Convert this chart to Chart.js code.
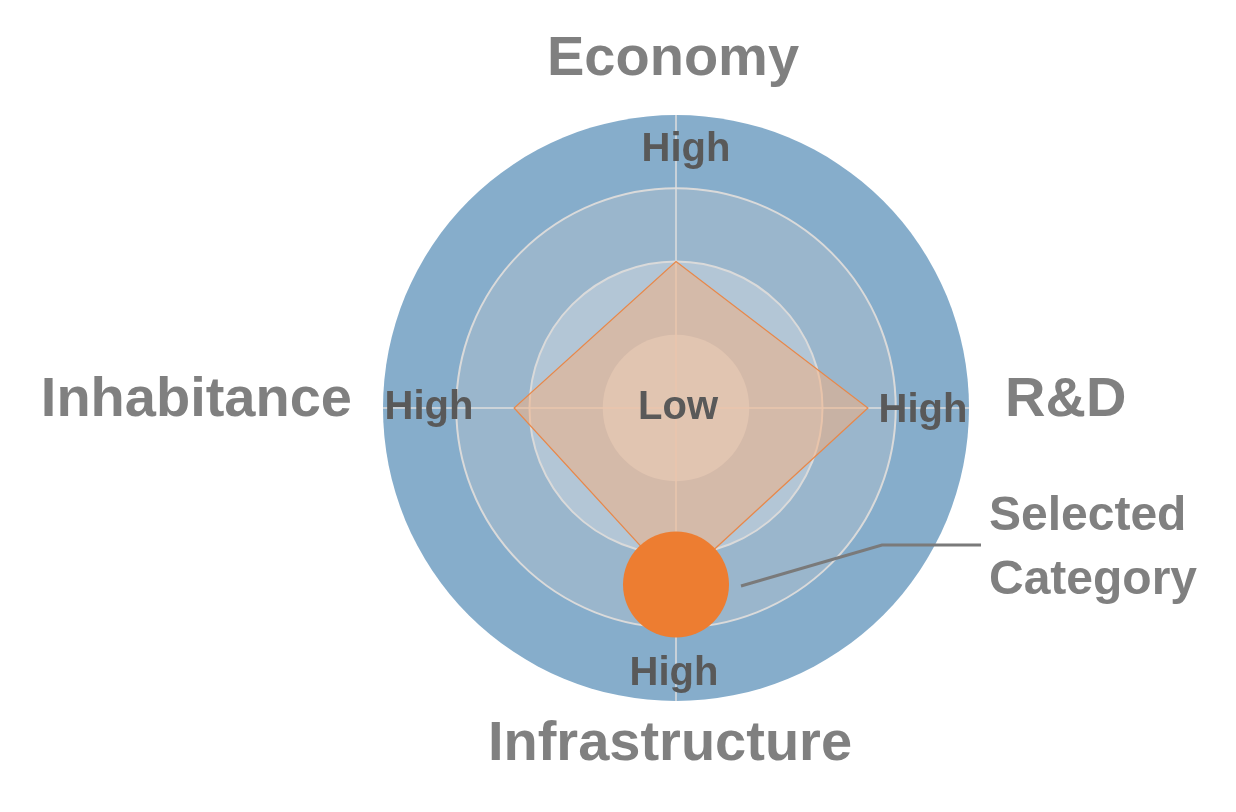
<!DOCTYPE html>
<html>
<head>
<meta charset="utf-8">
<script src="https://cdn.jsdelivr.net/npm/chart.js@4/dist/chart.umd.min.js"></script>
<style>
  html, body { margin: 0; padding: 0; background: #ffffff; }
  #wrap { width: 1236px; height: 812px; position: relative; }
</style>
</head>
<body>
<div id="wrap"><canvas id="c"></canvas></div>
<script>
// ---- data ----
const categories = ['Economy', 'R&D', 'Infrastructure', 'Inhabitance'];
const values = [2.0, 2.62, 2.41, 2.21];
const selectedIndex = 2;
const scaleMin = 0;
const scaleMax = 4;
const lowLabel = 'Low';
const highLabel = 'High';
const calloutLines = ['Selected', 'Category'];

// ---- styles ----
const FONT = '"Liberation Sans", Arial, Helvetica, sans-serif';
const ringColors = ['#cddce6', '#b3c6d6', '#9ab6cc', '#86adcb']; // inner -> outer
const highOffsets = [ // distance from center, x/y nudge
  { d: 261, dx: 10, dy: 3 },
  { d: 247, dx: 0, dy: 3 },
  { d: 263, dx: -2, dy: 3 },
  { d: 247, dx: 0, dy: 0 }
];
const catStyles = [
  { gap: 58, align: 'center', dx: -3, dy: 3 },
  { gap: 36, align: 'left', dx: 0, dy: -7 },
  { gap: 41, align: 'center', dx: -6, dy: 3 },
  { gap: 31, align: 'right', dx: 0, dy: -7 }
];

const decorPlugin = {
  id: 'decor',
  beforeDraw(chart) {
    const s = chart.scales.r;
    const ctx = chart.ctx;
    ctx.save();
    for (let v = scaleMax; v > scaleMin; v--) {
      const r = s.getDistanceFromCenterForValue(v);
      ctx.beginPath();
      ctx.arc(s.xCenter, s.yCenter, r, 0, Math.PI * 2);
      ctx.fillStyle = ringColors[v - 1];
      ctx.fill();
    }
    ctx.restore();
  },
  afterDatasetsDraw(chart) {
    const s = chart.scales.r;
    const ctx = chart.ctx;
    ctx.save();
    // Low / High labels
    ctx.fillStyle = '#595959';
    ctx.font = 'bold 40px ' + FONT;
    ctx.textAlign = 'center';
    ctx.textBaseline = 'middle';
    ctx.fillText(lowLabel, s.xCenter + 2, s.yCenter);
    categories.forEach((c, i) => {
      const o = highOffsets[i];
      const p = s.getPointPosition(i, o.d);
      ctx.fillText(highLabel, p.x + o.dx, p.y + o.dy);
    });
    // category labels
    ctx.fillStyle = '#808080';
    ctx.font = 'bold 56px ' + FONT;
    categories.forEach((c, i) => {
      const st = catStyles[i];
      const p = s.getPointPosition(i, s.drawingArea + st.gap);
      ctx.textAlign = st.align;
      ctx.fillText(c, p.x + st.dx, p.y + st.dy);
    });
    // callout
    const pt = chart.getDatasetMeta(0).data[selectedIndex];
    ctx.strokeStyle = '#7a7a7a';
    ctx.lineWidth = 3;
    ctx.beginPath();
    ctx.moveTo(pt.x + 65, pt.y + 1.5);
    ctx.lineTo(pt.x + 206, pt.y - 39.5);
    ctx.lineTo(pt.x + 305, pt.y - 39.5);
    ctx.stroke();
    ctx.fillStyle = '#808080';
    ctx.font = 'bold 48px ' + FONT;
    ctx.textAlign = 'left';
    calloutLines.forEach((t, k) => {
      ctx.fillText(t, pt.x + 313, pt.y - 68 + k * 64);
    });
    ctx.restore();
  }
};

new Chart(document.getElementById('c'), {
  type: 'radar',
  data: {
    labels: categories,
    datasets: [{
      data: values,
      backgroundColor: 'rgba(245,174,124,0.5)',
      borderColor: '#e8884a',
      borderWidth: 1.2,
      pointRadius: values.map((v, i) => i === selectedIndex ? 53 : 0),
      pointHoverRadius: values.map((v, i) => i === selectedIndex ? 53 : 0),
      pointBackgroundColor: '#ed7d31',
      pointBorderWidth: 0,
      pointBorderColor: '#ed7d31',
      fill: true
    }]
  },
  options: {
    responsive: true,
    maintainAspectRatio: false,
    animation: false,
    events: [],
    layout: { padding: { left: 383, right: 267, top: 115, bottom: 111 } },
    plugins: { legend: { display: false }, tooltip: { enabled: false } },
    scales: {
      r: {
        min: scaleMin,
        max: scaleMax,
        ticks: { display: false, stepSize: 1 },
        pointLabels: { display: false },
        grid: {
          circular: true,
          lineWidth: 2,
          color: (ctx) => (ctx.tick && (ctx.tick.value === 2 || ctx.tick.value === 3)) ? '#dadada' : 'rgba(0,0,0,0)'
        },
        angleLines: { color: '#dedede', lineWidth: 1.5 }
      }
    }
  },
  plugins: [decorPlugin]
});
</script>
</body>
</html>
